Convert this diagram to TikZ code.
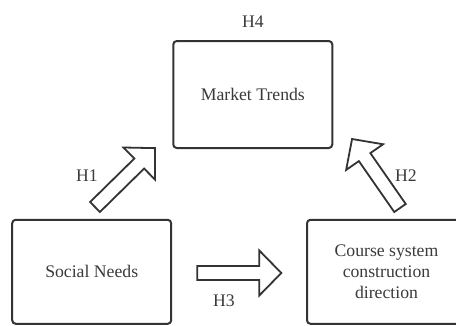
\documentclass[tikz,border=0pt]{standalone}
\usepackage{fontspec}
\setmainfont{Liberation Serif}
\definecolor{ink}{HTML}{333333}
\definecolor{txt}{HTML}{3A3A3A}
\tikzset{
  box/.style={draw=ink, line width=2pt, rounded corners=3.5pt,
    minimum width=159pt, minimum height=104pt, inner sep=0pt,
    align=center, text=txt, font=\fontsize{17.7}{21.3}\selectfont},
  blockarrow/.style={draw=ink, line width=1.8pt, fill=white, line join=miter},
  lbl/.style={text=txt, inner sep=0pt, font=\fontsize{17.7}{21.3}\selectfont}
}
\newcommand\blockarr[4]{%
  \begin{scope}[shift={(#2,#3)}, rotate=#4]
    \coordinate (#1) at (0,0);
    \draw[blockarrow] (0,-7) -- (62,-7) -- (62,-22.5) -- (84,0) -- (62,22.5) -- (62,7) -- (0,7) -- cycle;
  \end{scope}}
\begin{document}
\begin{tikzpicture}[x=1pt,y=-1pt]
\useasboundingbox (0,0) rectangle (456,325);
\node[box, minimum height=107pt] (mt) at (252.8,94.5) {Market Trends};
\node[box] (sn) at (91.7,271.8) {Social Needs};
\node[box] (cs) at (386.5,271.8) {Course system\\construction\\direction};
\blockarr{a1}{95}{207}{44.5}
\blockarr{a2}{400}{208}{124.8}
\blockarr{a3}{197.3}{273}{0}
\node[lbl] (h4) at (253,22) {H4};
\node[lbl] (h1) at (87,176) {H1};
\node[lbl] (h2) at (406,176) {H2};
\node[lbl] (h3) at (224,301) {H3};
\end{tikzpicture}
\end{document}
